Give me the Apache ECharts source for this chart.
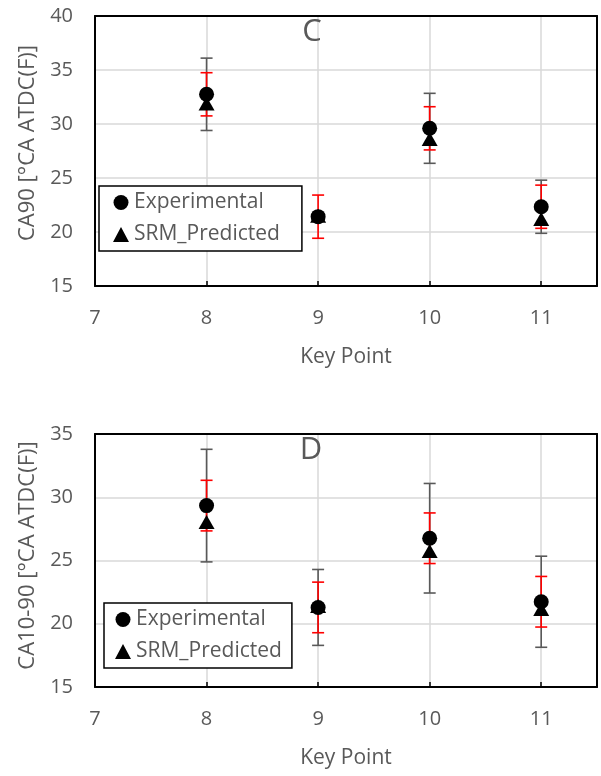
<!DOCTYPE html>
<html>
<head>
<meta charset="utf-8">
<script src="https://cdn.jsdelivr.net/npm/echarts@6/dist/echarts.min.js"></script>
<style>
  html, body { margin: 0; padding: 0; background: #fff; }
  #main { width: 601px; height: 776px; }
</style>
</head>
<body>
<div id="main"></div>
<script>
// key points on the x axis
const keyPoints = [8, 9, 10, 11];

// panel C : CA90
const ca90Exp = [32.75, 21.42, 29.6, 22.34];
const ca90Pred = [31.9, 21.5, 28.6, 21.2];
const ca90ExpErr = [3.35, 0.3, 3.24, 2.46];   // grey bars
const ca90RedErr = [2.0, 2.0, 2.0, 2.0];      // red bars

// panel D : CA10-90
const ca1090Exp = [29.34, 21.29, 26.76, 21.74];
const ca1090Pred = [28.05, 21.4, 25.75, 21.16];
const ca1090ExpErr = [4.45, 3.0, 4.33, 3.6];
const ca1090RedErr = [2.0, 2.0, 2.0, 2.0];

const textColor = "#595959";
const font = "'Open Sans', 'DejaVu Sans', sans-serif";

function errData(vals, errs) {
  return keyPoints.map((k, i) => [k, vals[i] - errs[i], vals[i] + errs[i]]);
}
function pairs(vals) {
  return keyPoints.map((k, i) => [k, vals[i]]);
}

// draws vertical error bar with caps
function errorBar(color) {
  return function (params, api) {
    const x = api.value(0);
    const top = api.coord([x, api.value(2)]);
    const bot = api.coord([x, api.value(1)]);
    const hw = 6;
    const style = { stroke: color, lineWidth: 1.6 };
    return {
      type: "group",
      children: [
        { type: "line", shape: { x1: top[0], y1: top[1], x2: bot[0], y2: bot[1] }, style: style },
        { type: "line", shape: { x1: top[0] - hw, y1: top[1], x2: top[0] + hw, y2: top[1] }, style: style },
        { type: "line", shape: { x1: bot[0] - hw, y1: bot[1], x2: bot[0] + hw, y2: bot[1] }, style: style },
      ],
    };
  };
}

function xAxisFor(gridIndex) {
  return {
    gridIndex: gridIndex,
    type: "value",
    min: 7,
    max: 11.5,
    interval: 1,
    name: "Key Point",
    nameLocation: "middle",
    nameGap: 61,
    nameTextStyle: { color: textColor, fontFamily: font, fontSize: 21 },
    axisLine: { show: true, lineStyle: { color: "#000", width: 2 } },
    axisTick: { show: true, inside: true, length: 5, lineStyle: { color: "#000", width: 1.5 } },
    axisLabel: { color: textColor, fontFamily: font, fontSize: 20, margin: 22, showMaxLabel: false },
    splitLine: { show: true, lineStyle: { color: "#d9d9d9", width: 1.5 } },
    z: 3,
  };
}

// frame-only axes for the top and right edges of each plot
function topFrame(gridIndex) {
  return {
    gridIndex: gridIndex, type: "value", position: "top", min: 7, max: 11.5, interval: 1,
    axisLine: { show: true, lineStyle: { color: "#000", width: 2 } },
    axisTick: { show: false }, axisLabel: { show: false }, splitLine: { show: false }, z: 3,
  };
}
function rightFrame(gridIndex, min, max) {
  return {
    gridIndex: gridIndex, type: "value", position: "right", min: min, max: max, interval: 5,
    axisLine: { show: true, lineStyle: { color: "#000", width: 2 } },
    axisTick: { show: false }, axisLabel: { show: false }, splitLine: { show: false }, z: 3,
  };
}

function yAxisFor(gridIndex, min, max, name, pad) {
  return {
    gridIndex: gridIndex,
    type: "value",
    min: min,
    max: max,
    interval: 5,
    name: name,
    nameLocation: "middle",
    nameGap: 52,
    nameTextStyle: { color: textColor, fontFamily: font, fontSize: 22, padding: [0, 0, 0, pad] },
    axisLine: { show: true, lineStyle: { color: "#000", width: 2 } },
    axisTick: { show: false },
    axisLabel: { color: textColor, fontFamily: font, fontSize: 20, margin: 22 },
    splitLine: { show: true, lineStyle: { color: "#d9d9d9", width: 1.5 } },
    z: 3,
  };
}

function seriesFor(idx, exp, pred, expErr, redErr) {
  return [
    {
      type: "custom",
      xAxisIndex: idx, yAxisIndex: idx,
      renderItem: errorBar("#595959"),
      encode: { x: 0, y: [1, 2] },
      data: errData(exp, expErr),
      z: 4,
      silent: true,
    },
    {
      type: "custom",
      xAxisIndex: idx, yAxisIndex: idx,
      renderItem: errorBar("#ff0000"),
      encode: { x: 0, y: [1, 2] },
      data: errData(exp, redErr),
      z: 5,
      silent: true,
    },
    {
      name: "Experimental",
      type: "scatter",
      xAxisIndex: idx, yAxisIndex: idx,
      symbol: "circle",
      symbolSize: 15,
      itemStyle: { color: "#000", opacity: 1 },
      data: pairs(exp),
      z: 7,
    },
    {
      name: "SRM_Predicted",
      type: "scatter",
      xAxisIndex: idx, yAxisIndex: idx,
      symbol: "triangle",
      symbolSize: [16, 14],
      itemStyle: { color: "#000", opacity: 1 },
      data: pairs(pred),
      z: 6,
    },
  ];
}

function legendAt(left, top, padding) {
  return {
    orient: "vertical",
    left: left,
    top: top,
    padding: padding,
    itemGap: 11,
    itemWidth: 16,
    itemHeight: 15,
    backgroundColor: "#fff",
    borderColor: "#000",
    borderWidth: 1.5,
    borderRadius: 0,
    z: 10,
    data: ["Experimental", "SRM_Predicted"],
    textStyle: { color: textColor, fontFamily: font, fontSize: 21 },
  };
}

const chart = echarts.init(document.getElementById("main"));
chart.setOption({
  animation: false,
  backgroundColor: "#fff",
  grid: [
    { left: 95, right: 4, top: 16, height: 270 },
    { left: 95, right: 4, top: 434, height: 253 },
  ],
  xAxis: [xAxisFor(0), xAxisFor(1), topFrame(0), topFrame(1)],
  yAxis: [
    yAxisFor(0, 15, 40, "CA90 [°CA ATDC(F)]", 16),
    yAxisFor(1, 15, 35, "CA10-90 [°CA ATDC(F)]", 10),
    rightFrame(0, 15, 40),
    rightFrame(1, 15, 35),
  ],
  legend: [
    legendAt(99, 186, [6, 22, 6, 14]),
    legendAt(104, 603, [6, 10, 6, 11]),
  ],
  graphic: [
    { type: "text", x: 312, y: 32, z: 8, style: { text: "C", fill: textColor, font: "31px " + font, textAlign: "center", textVerticalAlign: "middle" } },
    { type: "text", x: 311, y: 450, z: 8, style: { text: "D", fill: textColor, font: "31px " + font, textAlign: "center", textVerticalAlign: "middle" } },
  ],
  series: [].concat(
    seriesFor(0, ca90Exp, ca90Pred, ca90ExpErr, ca90RedErr),
    seriesFor(1, ca1090Exp, ca1090Pred, ca1090ExpErr, ca1090RedErr)
  ),
});
</script>
</body>
</html>
